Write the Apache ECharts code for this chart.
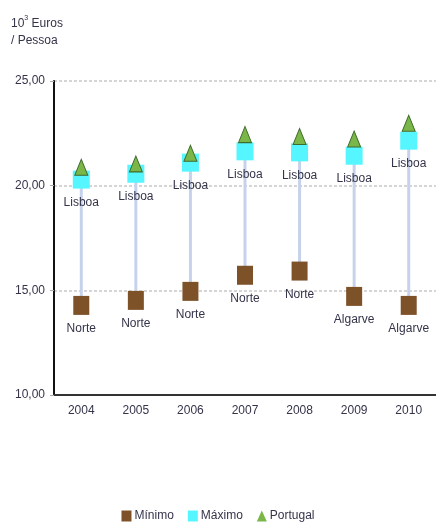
<!DOCTYPE html>
<html>
<head>
    <meta charset="utf-8"/>
    <title>Rendimento por pessoa</title>
    <script src="https://cdn.jsdelivr.net/npm/echarts@6/dist/echarts.min.js"></script>
    <style>
        html, body { margin: 0; padding: 0; background: #ffffff; }
        #chart { width: 436px; height: 522px; }
    </style>
</head>
<body>
<div id="chart"></div>
<script>
var anos = ['2004', '2005', '2006', '2007', '2008', '2009', '2010'];
var minimo = [14.28, 14.52, 14.95, 15.72, 15.92, 14.71, 14.28];
var maximo = [20.29, 20.57, 21.10, 21.64, 21.59, 21.43, 22.15];
var portugal = [20.88, 21.04, 21.55, 22.44, 22.35, 22.23, 22.98];
var regiaoMin = ['Norte', 'Norte', 'Norte', 'Norte', 'Norte', 'Algarve', 'Algarve'];
var regiaoMax = ['Lisboa', 'Lisboa', 'Lisboa', 'Lisboa', 'Lisboa', 'Lisboa', 'Lisboa'];

var fonte = 'Liberation Sans, Arial, sans-serif';
var corTexto = '#34344a';

// dados para a linha vertical min -> max
var intervalo = [];
for (var i = 0; i < anos.length; i++) {
    intervalo.push([i, minimo[i], maximo[i]]);
}

var chart = echarts.init(document.getElementById('chart'));
var option = {
    animation: false,
    backgroundColor: '#ffffff',
    title: {
        left: 6,
        top: 10,
        text: '{a|10}{s|3}{a| Euros}\n{a|/ Pessoa}',
        textStyle: {
            fontWeight: 'normal',
            rich: {
                a: { fontFamily: fonte, fontSize: 12, fontWeight: 'normal', color: corTexto, lineHeight: 17 },
                s: { fontFamily: fonte, fontSize: 7, fontWeight: 'normal', color: corTexto, verticalAlign: 'top', lineHeight: 17, padding: [0, 0, 6, 0] }
            }
        }
    },
    legend: {
        top: 505,
        left: 'center',
        itemWidth: 10,
        itemHeight: 11,
        itemGap: 14,
        data: [
            { name: 'Mínimo', icon: 'rect', itemStyle: { borderWidth: 0 } },
            { name: 'Máximo', icon: 'rect', itemStyle: { borderWidth: 0 } },
            { name: 'Portugal', icon: 'triangle', itemStyle: { borderWidth: 0 } }
        ],
        textStyle: { fontFamily: fonte, fontSize: 12, color: corTexto, padding: [0, 0, 0, -2] }
    },
    grid: { left: 54, right: 0, top: 81, bottom: 127 },
    xAxis: {
        type: 'category',
        data: anos,
        axisLine: { lineStyle: { color: '#333', width: 2 } },
        axisTick: { show: false },
        axisLabel: { fontFamily: fonte, fontSize: 12, color: corTexto, margin: 10 }
    },
    yAxis: {
        type: 'value',
        min: 10,
        max: 25,
        interval: 5,
        axisLine: { show: true, lineStyle: { color: '#111', width: 2 } },
        axisTick: { show: true, length: 4, lineStyle: { color: '#aaa' } },
        splitLine: { lineStyle: { color: '#c8c8c8', type: [3, 2], width: 1.5 } },
        axisLabel: {
            fontFamily: fonte, fontSize: 12, color: corTexto, margin: 9,
            formatter: function (v) { return v.toFixed(2).replace('.', ','); }
        }
    },
    series: [
        {
            type: 'custom',
            name: 'intervalo',
            data: intervalo,
            z: 1,
            renderItem: function (params, api) {
                var p1 = api.coord([api.value(0), api.value(1)]);
                var p2 = api.coord([api.value(0), api.value(2)]);
                return {
                    type: 'line',
                    shape: { x1: p1[0], y1: p1[1], x2: p2[0], y2: p2[1] },
                    style: { stroke: '#c6d2ec', lineWidth: 3 }
                };
            }
        },
        {
            type: 'scatter',
            name: 'Mínimo',
            data: minimo,
            symbol: 'rect',
            symbolSize: [16, 19],
            z: 3,
            itemStyle: { color: '#7e5229', opacity: 1 },
            label: {
                show: true,
                position: 'bottom',
                distance: 8,
                fontFamily: fonte,
                fontSize: 12,
                color: corTexto,
                formatter: function (p) { return regiaoMin[p.dataIndex]; }
            }
        },
        {
            type: 'scatter',
            name: 'Máximo',
            data: maximo,
            symbol: 'rect',
            symbolSize: [17, 18],
            z: 3,
            itemStyle: { color: '#55f6ff', opacity: 1 },
            label: {
                show: true,
                position: 'bottom',
                distance: 8,
                fontFamily: fonte,
                fontSize: 12,
                color: corTexto,
                formatter: function (p) { return regiaoMax[p.dataIndex]; }
            }
        },
        {
            type: 'scatter',
            name: 'Portugal',
            data: portugal,
            symbol: 'triangle',
            symbolSize: [13, 16],
            z: 4,
            itemStyle: { color: '#7ab648', borderColor: '#3e6b2c', borderWidth: 1, opacity: 1 }
        }
    ]
};
chart.setOption(option);
</script>
</body>
</html>
